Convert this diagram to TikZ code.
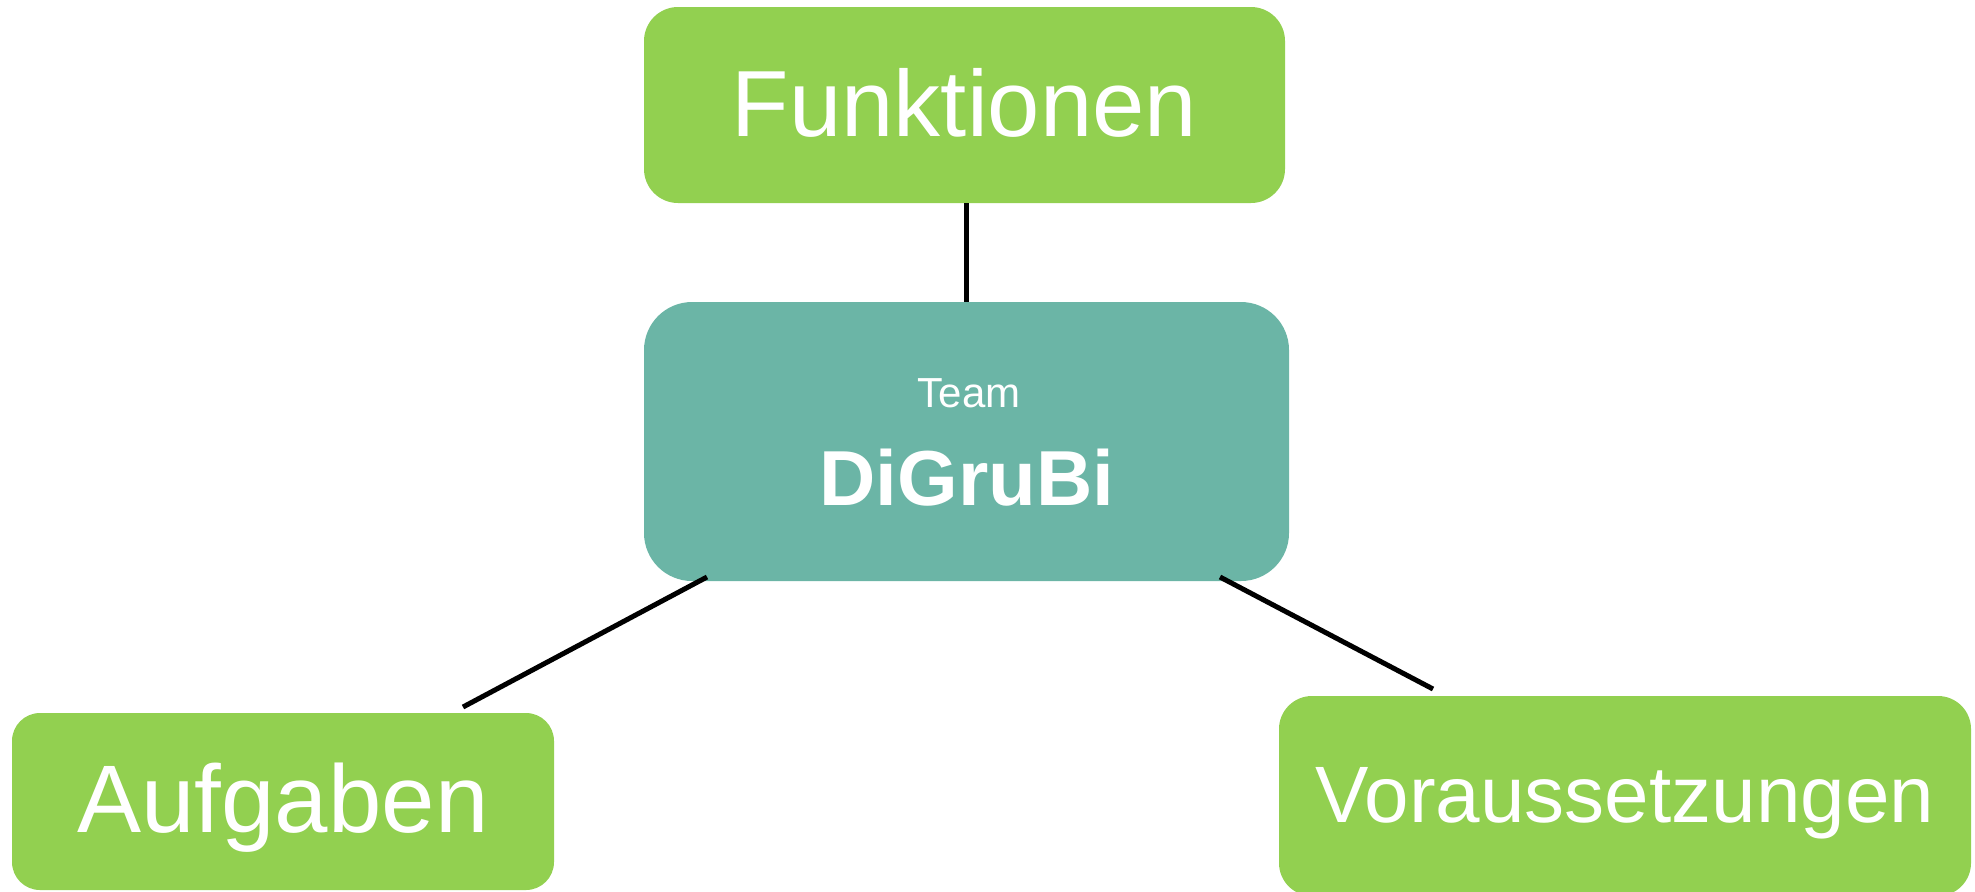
\documentclass[tikz,border=0pt]{standalone}
\usepackage{fontspec}
\setmainfont{Liberation Sans}
\usetikzlibrary{calc}
\definecolor{boxgreen}{HTML}{92D050}
\definecolor{coreteal}{HTML}{6BB5A6}
\begin{document}
\begin{tikzpicture}[x=0.5pt,y=-0.5pt,
  box/.style={rectangle, fill=boxgreen, draw=none, text=white, inner sep=0pt, outer sep=0pt},
  corebox/.style={rectangle, fill=coreteal, draw=none, inner sep=0pt, outer sep=0pt},
  coretext/.style={text=white, inner sep=0pt, outer sep=0pt, anchor=base},
  conn/.style={draw=black, line width=2.5pt}]
\useasboundingbox (0,0) rectangle (1975,891);
% outer boxes
\node[box, minimum width=320.5pt, minimum height=98pt, rounded corners=17pt,
      font=\fontsize{47}{56}\selectfont, text height=34.5pt, text depth=3.5pt]
      (fun) at (964.5,105) {Funktionen};
\node[box, minimum width=271pt, minimum height=88.5pt, rounded corners=14pt,
      font=\fontsize{48}{57}\selectfont, text height=34.5pt, text depth=4pt]
      (aufg) at (283,801.5) {Aufgaben};
\node[box, minimum width=346pt, minimum height=100pt, rounded corners=16.5pt,
      font=\fontsize{40}{48}\selectfont, text height=29.5pt, text depth=3.5pt]
      (vor) at (1625,796) {Voraussetzungen};
% central box
\node[corebox, minimum width=322.5pt, minimum height=139.5pt, rounded corners=24pt]
      (core) at (966.5,441.5) {};
\node[coretext, font=\fontsize{21}{25}\selectfont] (team) at (969,407) {Team};
\node[coretext, font=\bfseries\fontsize{39}{47}\selectfont] (digrubi) at (967,505) {DiGruBi};
% connectors
\draw[conn] (fun.south -| core.north) -- (core.north);
\draw[conn] ($(core.south west)+(63,-4)$) -- ($(aufg.north west)+(451,-6)$);
\draw[conn] ($(core.south east)+(-69,-4)$) -- ($(vor.north west)+(154,-7)$);
\end{tikzpicture}
\end{document}
